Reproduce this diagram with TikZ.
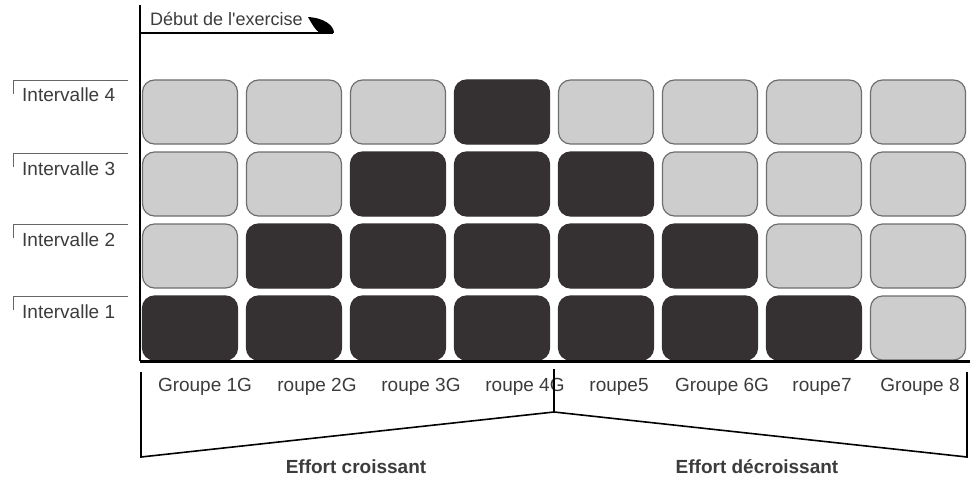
\documentclass[tikz,border=0pt]{standalone}
\usepackage{fontspec}
\setmainfont{Liberation Sans}
\usetikzlibrary{positioning}
\definecolor{boxdark}{RGB}{53,48,50}
\definecolor{boxlite}{RGB}{205,205,205}
\definecolor{boxedge}{RGB}{110,110,110}
\definecolor{ink}{RGB}{60,60,60}

\begin{document}
\begin{tikzpicture}[x=1pt,y=-1pt,
	litebox/.style={draw=boxedge, line width=1.2pt, fill=boxlite, rounded corners=12pt, minimum width=95pt, minimum height=64pt, inner sep=0pt},
	darkbox/.style={litebox, draw=boxdark, fill=boxdark},
	lbl/.style={font=\fontsize{19}{21}\selectfont, text=ink, inner sep=0pt}]
				\useasboundingbox (0,0) rectangle (979,484);
				
				\foreach \c in {1,...,8}
				\foreach \r in {1,...,4} {
					\pgfmathtruncatemacro\isdark{abs(\c-4) < 5-\r}
					\ifnum\isdark=1
					\node[darkbox] (b\c\r) at ({190+(\c-1)*104}, {328-(\r-1)*72}) {};
					\else
					\node[litebox] (b\c\r) at ({190+(\c-1)*104}, {328-(\r-1)*72}) {};
					\fi
				}
				
				\draw[line width=2.2pt] (140,5) -- (140,361);
				\draw[line width=3pt] (140,361) -- (970,361);
				
				\node[lbl, font=\fontsize{18}{20}\selectfont, anchor=base west] (debut) at (150,26) {Début de l\textquotesingle exercise};
				\draw[line width=1.8pt] (140,33) -- (333,33);
				\fill (308,17) .. controls (325,18) and (334,26) .. (334,33) -- (320,33) .. controls (315,30) and (312,24) .. (308,17);
				
				\foreach \r/\y in {1/296, 2/224, 3/153, 4/80} {
					\node[lbl, anchor=base west] (int\r) at (22,\y+22) {Intervalle \r};
					\draw[black!60, line width=0.9pt] (13,\y+14) -- (13,\y) -- (128,\y);
				}
				
				\foreach \x/\t [count=\i] in {205/Groupe 1G, 317/roupe 2G, 421/roupe 3G, 525/roupe 4G, 619/roupe5, 722/Groupe 6G, 822/roupe7, 920/Groupe 8}
				\node[lbl, anchor=base] (g\i) at (\x,391) {\t};
				
				\coordinate (lt) at (141,372);
				\coordinate (lb) at (141,457);
				\coordinate (mt) at (554,369);
				\coordinate (mb) at (554,412);
				\coordinate (rb) at (967,457);
				\coordinate (rt) at (967,372);
				\draw[line width=1.6pt, line join=miter] (lt) -- (lb) -- (mb) -- (rb) -- (rt);
				\draw[line width=1.2pt] (mt) -- (mb);
				
				\node[lbl, font=\fontsize{19}{21}\selectfont\bfseries, anchor=base] (up) at (356,473) {Effort croissant};
				\node[lbl, font=\fontsize{19}{21}\selectfont\bfseries, anchor=base] (down) at (757,473) {Effort décroissant};
\end{tikzpicture}
\end{document}
